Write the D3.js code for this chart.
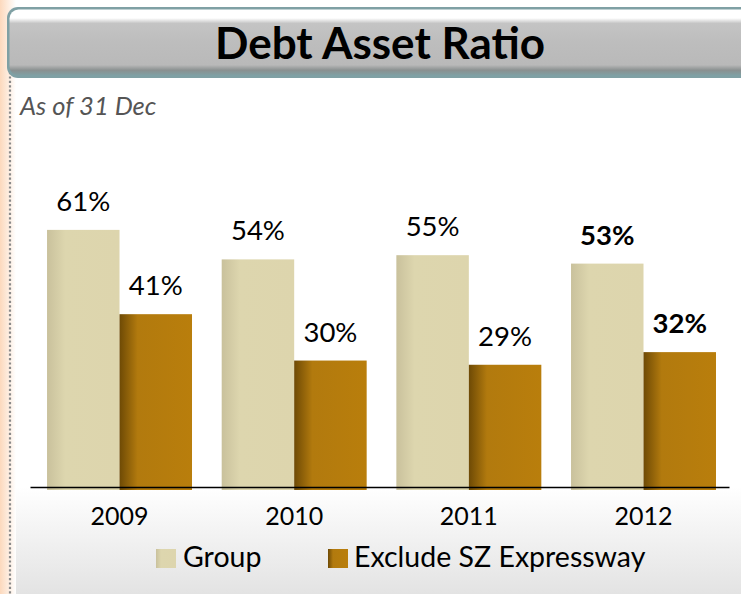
<!DOCTYPE html>
<html><head><meta charset="utf-8">
<script src="https://cdn.jsdelivr.net/npm/d3@7"></script>
<style>html,body{margin:0;padding:0;background:#fff;}svg{display:block;}</style>
</head><body>
<svg id="c" width="741" height="594"></svg>
<script>
const categories = ["2009", "2010", "2011", "2012"];
const seriesNames = ["Group", "Exclude SZ Expressway"];
const groupValues = [0.61, 0.54, 0.55, 0.53];
const excludeValues = [0.41, 0.30, 0.29, 0.32];
const labelBold = [false, false, false, true];

const W = 741, H = 594;
const svg = d3.select("#c");
const defs = svg.append("defs");
const FONT = "Lato, 'Open Sans', sans-serif";

function lin(id, stops, x2 = "100%", y2 = "0%") {
  const g = defs.append("linearGradient").attr("id", id).attr("x1", "0%").attr("y1", "0%").attr("x2", x2).attr("y2", y2);
  stops.forEach(s => g.append("stop").attr("offset", s[0]).attr("stop-color", s[1]));
}
lin("bgGrad", [["0%", "#ffffff"], ["82%", "#ffffff"], ["100%", "#e3e3e3"]], "0%", "100%");
lin("stripGrad", [["0%", "#fcd9bd"], ["100%", "#ffffff"]]);
lin("gGrad", [["0%", "#c9c19c"], ["25%", "#ddd6ae"], ["100%", "#ddd5ad"]]);
lin("eGrad", [["0%", "#6e4a05"], ["25%", "#b27a0e"], ["100%", "#b97e0c"]]);
lin("titleGrad", [["0%", "#ffffff"], ["13%", "#ffffff"], ["21%", "#c4c4c4"], ["50%", "#bdbdbd"], ["84%", "#b9b9b9"], ["92%", "#8a9090"], ["100%", "#7fa0a4"]], "0%", "100%");

svg.append("rect").attr("width", W).attr("height", H).attr("fill", "url(#bgGrad)");
svg.append("rect").attr("x", 0).attr("y", 0).attr("width", 16).attr("height", H).attr("fill", "url(#stripGrad)");
svg.append("line").attr("x1", 10).attr("x2", 10).attr("y1", 72).attr("y2", H)
  .attr("stroke", "#8a8a8a").attr("stroke-width", 2.2).attr("stroke-dasharray", "2.2,2.2");

// title bar
svg.append("rect").attr("x", 7).attr("y", 7).attr("width", 760).attr("height", 71).attr("rx", 11)
  .attr("fill", "#7fa0a4");
svg.append("rect").attr("x", 9.5).attr("y", 9.5).attr("width", 760).attr("height", 66).attr("rx", 9)
  .attr("fill", "url(#titleGrad)");
svg.append("text").attr("x", 380).attr("y", 59).attr("text-anchor", "middle")
  .attr("font-family", FONT).attr("font-weight", "bold").attr("font-size", 44)
  .attr("fill", "#000").text("Debt Asset Ratio");

svg.append("text").attr("x", 20).attr("y", 115)
  .attr("font-family", FONT).attr("font-style", "italic").attr("font-size", 25.5)
  .attr("fill", "#555").text("As of 31 Dec");

// scales
const x0 = d3.scaleBand().domain(categories).range([30, 729])
  .paddingInner(0.17).paddingOuter(0.086).align(0.567);
const x1 = d3.scaleBand().domain(seriesNames).range([0, x0.bandwidth()]);
const y = d3.scaleLinear().domain([0, 1]).range([487, 65.5]);

const data = categories.map((c, i) => ({ cat: c, vals: [groupValues[i], excludeValues[i]], bold: labelBold[i] }));
const fills = ["url(#gGrad)", "url(#eGrad)"];

const g = svg.append("g");
data.forEach(d => {
  d.vals.forEach((v, j) => {
    const bx = x0(d.cat) + x1(seriesNames[j]);
    g.append("rect").attr("x", bx).attr("y", y(v)).attr("width", x1.bandwidth())
      .attr("height", y(0) - y(v) + 3).attr("fill", fills[j]);
    g.append("text").attr("x", bx + x1.bandwidth() / 2).attr("y", y(v) - 19)
      .attr("text-anchor", "middle").attr("font-family", FONT).attr("font-size", 27.5)
      .attr("font-weight", d.bold ? "bold" : "normal").attr("fill", "#000")
      .text(d3.format(".0%")(v));
  });
});

// axis
const ax = svg.append("g").attr("transform", "translate(0,487)")
  .call(d3.axisBottom(x0).tickSize(0).tickPadding(20).tickSizeOuter(0));
ax.select(".domain").attr("stroke", "#000").attr("stroke-width", 1.3);
ax.selectAll("text").attr("font-family", FONT).attr("font-size", 25).attr("fill", "#000")
  .attr("dy", null).attr("y", 38);

// legend
const leg = [{ x: 156, tx: 183 }, { x: 328, tx: 354 }];
seriesNames.forEach((s, i) => {
  svg.append("rect").attr("x", leg[i].x).attr("y", 549).attr("width", 20).attr("height", 19).attr("fill", fills[i]);
  svg.append("text").attr("x", leg[i].tx).attr("y", 567).attr("font-family", FONT).attr("font-size", 28.5)
    .attr("fill", "#000").text(s);
});
</script>
</body></html>
